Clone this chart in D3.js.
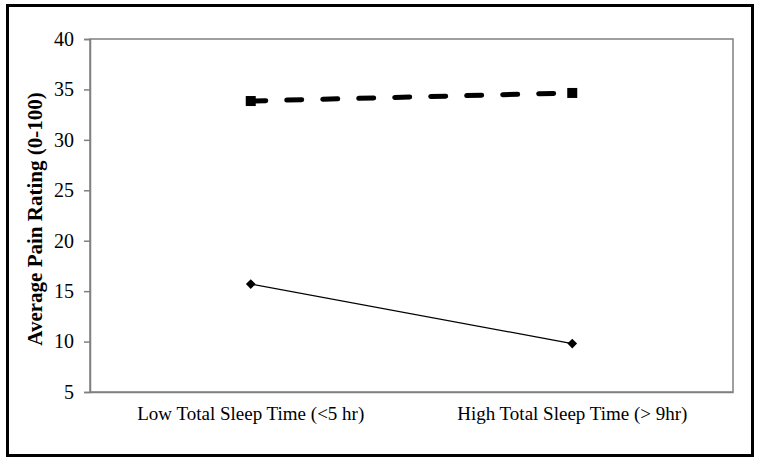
<!DOCTYPE html>
<html>
<head>
<meta charset="utf-8">
<script src="https://cdn.jsdelivr.net/npm/d3@7"></script>
<style>
  body { margin: 0; background: #fff; }
  svg { display: block; }
</style>
</head>
<body>
<div id="chart"></div>
<script>
// chart data
const categories = ['Low Total Sleep Time (<5 hr)', 'High Total Sleep Time (> 9hr)'];
const seriesDashed = [33.85, 34.65];
const seriesSolid = [15.7, 9.8];
const yTicks = [5, 10, 15, 20, 25, 30, 35, 40];
const yLabel = 'Average Pain Rating (0-100)';

const width = 762, height = 464;
const margin = { top: 39, right: 29, bottom: 72, left: 90 };
const plotW = width - margin.left - margin.right;
const plotH = height - margin.top - margin.bottom;
const serif = "'Liberation Serif', 'Times New Roman', serif";

const svg = d3.select('#chart').append('svg')
  .attr('width', width)
  .attr('height', height);

// outer frame
svg.append('rect')
  .attr('x', 7.5).attr('y', 5.5)
  .attr('width', 745).attr('height', 450)
  .attr('fill', 'none')
  .attr('stroke', '#000')
  .attr('stroke-width', 3);

const g = svg.append('g')
  .attr('transform', 'translate(' + margin.left + ',' + margin.top + ')');

const x = d3.scaleBand().domain(categories).range([0, plotW]);
const y = d3.scaleLinear().domain([5, 40]).range([plotH, 0]);

// plot area border
g.append('rect')
  .attr('x', 0).attr('y', 0)
  .attr('width', plotW).attr('height', plotH)
  .attr('fill', 'none')
  .attr('stroke', '#808080')
  .attr('stroke-width', 1.5);

// y axis
const yAxis = g.append('g')
  .call(d3.axisLeft(y).tickValues(yTicks).tickSize(6).tickPadding(10));
yAxis.select('.domain').attr('stroke', '#808080').attr('stroke-width', 1.5);
yAxis.selectAll('.tick line').attr('stroke', '#808080').attr('stroke-width', 1.5);
yAxis.selectAll('text')
  .style('font-family', serif)
  .style('font-size', '20px')
  .attr('fill', '#000');

// x axis
const xAxis = g.append('g')
  .attr('transform', 'translate(0,' + plotH + ')')
  .call(d3.axisBottom(x).tickSize(0).tickPadding(15));
xAxis.select('.domain').attr('stroke', '#808080').attr('stroke-width', 1.5);
xAxis.selectAll('text')
  .style('font-family', serif)
  .style('font-size', '19px')
  .attr('fill', '#000');

// y label
svg.append('text')
  .attr('transform', 'translate(42,' + (margin.top + 180) + ') rotate(-90)')
  .attr('text-anchor', 'middle')
  .style('font-family', serif)
  .style('font-size', '21px')
  .style('font-weight', 'bold')
  .text(yLabel);

const cx = d => x(d) + x.bandwidth() / 2;
const line = d3.line().x(d => cx(d.c)).y(d => y(d.v));

const dashedData = categories.map((c, i) => ({ c: c, v: seriesDashed[i] }));
const solidData = categories.map((c, i) => ({ c: c, v: seriesSolid[i] }));

// dashed series
g.append('path')
  .datum(dashedData)
  .attr('d', line)
  .attr('fill', 'none')
  .attr('stroke', '#000')
  .attr('stroke-width', 5)
  .attr('stroke-linecap', 'round')
  .attr('stroke-dasharray', '15,21');

g.selectAll('.sq')
  .data(dashedData).enter().append('rect')
  .attr('class', 'sq')
  .attr('x', d => cx(d.c) - 5)
  .attr('y', d => y(d.v) - 5)
  .attr('width', 10).attr('height', 10)
  .attr('fill', '#000');

// solid series
g.append('path')
  .datum(solidData)
  .attr('d', line)
  .attr('fill', 'none')
  .attr('stroke', '#000')
  .attr('stroke-width', 1.3);

g.selectAll('.dm')
  .data(solidData).enter().append('path')
  .attr('class', 'dm')
  .attr('d', d3.symbol().type(d3.symbolDiamond2).size(60))
  .attr('transform', d => 'translate(' + cx(d.c) + ',' + y(d.v) + ')')
  .attr('fill', '#000');
</script>
</body>
</html>
